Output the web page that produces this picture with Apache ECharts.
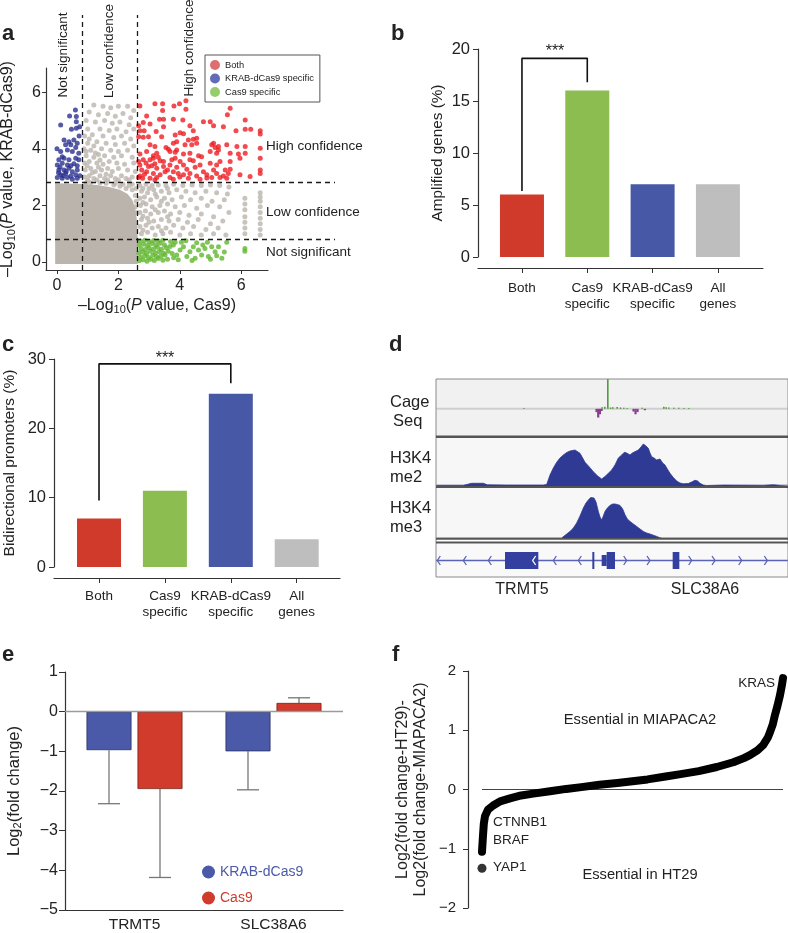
<!DOCTYPE html>
<html><head><meta charset="utf-8">
<script src="https://cdn.jsdelivr.net/npm/echarts@6/dist/echarts.min.js"></script>
<style>html,body{margin:0;padding:0;background:#fff}#c{width:788px;height:933px}</style>
</head><body><div id="c"></div>
<script>
// ================= DATA =================
// Panel a: -log10 P values (x: Cas9, y: KRAB-dCas9)
const aXTicks = [0, 2, 4, 6];
const aYTicks = [0, 2, 4, 6];
const aThreshX = [0.81, 2.6];
const aThreshY = [2.83, 0.81];
const aBoth = [[2.70,5.51],[3.19,5.59],[3.44,5.59],[3.44,5.35],[3.81,5.51],[3.99,5.59],[4.20,5.70],[4.20,5.40],[5.64,5.43],[5.55,5.20],[2.92,5.16],[3.34,5.04],[3.47,5.04],[3.79,5.04],[4.10,5.02],[6.13,5.02],[2.66,4.81],[2.81,4.93],[3.03,4.88],[4.33,4.81],[4.77,4.96],[4.99,4.96],[5.10,4.81],[5.42,4.78],[5.83,4.64],[6.13,4.69],[6.31,4.69],[6.62,4.64],[6.62,4.52],[2.70,4.64],[2.84,4.64],[3.23,4.61],[3.47,4.78],[4.01,4.57],[4.44,4.64],[2.66,4.43],[2.81,4.41],[2.98,4.43],[3.41,4.43],[3.85,4.49],[4.12,4.53],[4.28,4.31],[4.44,4.34],[4.55,4.37],[3.90,4.25],[3.79,4.20],[3.03,4.14],[3.19,4.08],[4.17,4.14],[4.39,4.14],[4.55,4.20],[5.10,4.20],[5.15,4.05],[5.26,4.08],[5.04,4.14],[5.53,4.14],[5.86,4.08],[6.13,4.08],[6.62,4.02],[3.63,3.98],[3.90,3.96],[2.92,3.90],[3.68,3.90],[3.85,3.88],[4.12,3.82],[4.33,3.84],[4.61,3.75],[4.71,3.72],[4.99,3.90],[5.20,3.84],[5.26,3.96],[5.64,3.84],[5.91,3.82],[6.13,3.84],[2.70,3.82],[3.25,3.84],[3.14,3.75],[2.81,3.61],[3.03,3.61],[3.14,3.67],[3.36,3.58],[3.47,3.55],[3.74,3.61],[3.85,3.67],[4.01,3.55],[4.33,3.61],[4.44,3.58],[4.66,3.43],[4.99,3.49],[5.31,3.55],[5.64,3.55],[5.96,3.67],[6.62,3.67],[2.66,3.55],[2.70,3.43],[2.98,3.37],[3.09,3.40],[3.19,3.47],[3.25,3.31],[3.47,3.37],[3.68,3.43],[3.90,3.35],[4.12,3.43],[4.23,3.28],[4.50,3.35],[4.77,3.19],[5.10,3.25],[5.20,3.43],[5.48,3.25],[2.76,3.25],[2.92,3.19],[3.14,3.13],[3.36,3.08],[3.52,3.19],[3.79,3.19],[3.95,3.13],[4.12,3.08],[4.33,3.13],[4.55,3.04],[4.88,3.08],[5.20,3.13],[5.42,3.04],[5.58,3.13],[5.64,3.28],[5.96,3.08],[6.29,3.02],[6.62,3.25],[6.62,3.13],[2.70,3.04],[2.79,2.96],[3.03,2.96],[3.25,2.99],[3.68,2.99],[3.79,2.92],[4.28,2.96],[4.66,2.92],[4.88,2.97],[5.04,2.99],[5.31,2.99],[5.53,2.96],[2.66,2.99],[3.19,2.90],[2.9,3.5],[3.3,3.7],[3.6,3.25],[4.0,3.0],[2.85,3.1],[3.55,4.05]];
const aKrab = [[0.6,5.37],[0.41,5.16],[0.63,5.14],[0.12,4.84],[0.63,4.96],[0.47,4.69],[0.63,4.73],[0.74,4.78],[0.23,4.31],[0.39,4.25],[0.55,4.31],[0.66,4.20],[0.28,4.14],[0.45,4.14],[0.61,4.05],[0.12,3.90],[0.34,3.96],[0.5,3.90],[0.71,3.84],[0.17,3.72],[0.06,3.61],[0.23,3.67],[0.39,3.61],[0.61,3.67],[0.71,3.61],[0.01,3.43],[0.17,3.49],[0.34,3.43],[0.55,3.47],[0.66,3.40],[0.06,3.25],[0.23,3.25],[0.39,3.31],[0.5,3.19],[0.66,3.25],[0.12,3.08],[0.28,3.13],[0.45,3.04],[0.61,3.08],[0.01,2.99],[0.17,2.96],[0.34,2.99],[0.5,2.92],[0.66,2.96],[0.05,3.15],[0.2,3.05],[0.3,3.2],[0.1,3.35],[0.45,3.4],[0.75,3.05],[0.72,4.45],[0.0,4.0]];
const aCas9 = [[2.68,0.04],[2.8,0.08],[2.93,0.03],[3.05,0.1],[3.17,0.05],[3.3,0.12],[3.45,0.06],[3.6,0.1],[2.72,0.18],[2.86,0.22],[2.98,0.16],[3.12,0.24],[3.24,0.19],[3.38,0.2],[3.52,0.25],[2.67,0.32],[2.79,0.35],[2.92,0.3],[3.04,0.38],[3.2,0.33],[3.33,0.36],[3.47,0.31],[3.62,0.38],[2.74,0.47],[2.88,0.44],[3.0,0.5],[3.14,0.46],[3.27,0.52],[3.4,0.45],[3.56,0.5],[2.68,0.6],[2.82,0.63],[2.95,0.58],[3.09,0.65],[3.22,0.6],[3.36,0.66],[3.5,0.6],[2.72,0.74],[2.86,0.77],[3.0,0.72],[3.15,0.76],[3.3,0.74],[3.45,0.77],[3.7,0.72],[3.79,0.6],[3.9,0.25],[4.01,0.42],[4.12,0.54],[4.23,0.19],[4.33,0.36],[4.44,0.54],[4.5,0.13],[4.61,0.42],[4.71,0.25],[4.82,0.48],[4.93,0.19],[5.04,0.54],[5.15,0.36],[5.26,0.54],[5.37,0.13],[5.53,0.7],[6.12,0.48],[6.12,0.38],[3.75,0.3],[3.85,0.7],[3.95,0.08],[4.05,0.7],[4.2,0.75],[4.4,0.05],[4.55,0.68],[4.75,0.6],[4.9,0.7],[5.0,0.1],[5.2,0.22],[5.45,0.35],[3.68,0.55],[3.8,0.15]];
const aGrayDense = [[-0.06,-0.07],[2.63,-0.07],[2.63,0.85],[2.6,1.5],[2.55,1.9],[2.45,2.2],[2.3,2.4],[2.05,2.55],[1.7,2.65],[1.3,2.72],[0.8,2.76],[-0.06,2.78]];
const aGray = [[1.2,5.55],[1.5,5.5],[1.75,5.45],[2.0,5.5],[2.3,5.5],[2.5,5.35],[1.05,5.3],[1.35,5.2],[1.65,5.25],[1.9,5.15],[2.15,5.25],[2.4,5.1],[0.95,5.0],[1.25,4.95],[1.55,5.0],[1.8,4.9],[2.05,4.95],[2.35,4.85],[1.0,4.7],[1.4,4.7],[1.7,4.65],[1.95,4.7],[2.25,4.6],[2.5,4.7],[0.9,4.45],[1.15,4.5],[1.5,4.45],[1.85,4.4],[2.1,4.45],[2.4,4.35],[1.0,4.2],[1.3,4.25],[1.6,4.2],[1.9,4.15],[2.2,4.2],[2.5,4.1],[0.88,4.0],[1.1,3.95],[1.45,4.0],[1.75,3.95],[2.0,3.9],[2.3,3.95],[0.95,3.75],[1.2,3.7],[1.35,3.8],[1.55,3.75],[1.85,3.7],[2.1,3.75],[2.45,3.7],[0.9,3.5],[1.05,3.55],[1.3,3.5],[1.5,3.45],[1.7,3.55],[1.95,3.5],[2.2,3.45],[2.5,3.5],[0.92,3.25],[1.1,3.3],[1.25,3.2],[1.45,3.25],[1.65,3.3],[1.8,3.2],[2.0,3.3],[2.3,3.25],[2.55,3.2],[0.9,3.0],[1.05,3.05],[1.2,2.95],[1.4,3.05],[1.55,2.95],[1.75,3.05],[1.9,2.95],[2.1,3.05],[2.25,2.95],[2.45,3.0],[1.0,2.9],[1.3,2.9],[1.65,2.9],[2.0,2.9],[2.35,2.9],[0.98,3.4],[1.15,3.15],[1.35,3.35],[0.95,3.9],[1.2,4.1],[1.05,4.35],[1.25,3.85],[1.4,3.6],[1.6,3.1],
[2.7,2.7],[2.9,2.75],[3.1,2.7],[3.3,2.72],[3.55,2.7],[3.8,2.75],[4.1,2.7],[4.4,2.72],[4.7,2.7],[5.0,2.72],[5.3,2.7],[5.6,2.65],[2.75,2.5],[2.95,2.45],[3.15,2.55],[3.4,2.5],[3.65,2.45],[3.9,2.55],[4.2,2.5],[4.5,2.45],[4.85,2.5],[5.2,2.45],[5.55,2.4],[2.7,2.25],[2.85,2.3],[3.05,2.2],[3.25,2.3],[3.5,2.25],[3.75,2.2],[4.05,2.3],[4.35,2.2],[4.7,2.25],[5.05,2.15],[5.45,2.2],[2.72,2.0],[2.9,2.05],[3.1,1.95],[3.35,2.0],[3.6,2.05],[3.85,1.95],[4.15,2.0],[4.55,1.9],[4.9,2.0],[5.3,1.95],[2.7,1.75],[2.88,1.8],[3.05,1.7],[3.3,1.75],[3.5,1.8],[3.7,1.7],[4.0,1.75],[4.3,1.65],[4.7,1.7],[5.1,1.6],[5.6,1.75],[2.75,1.5],[2.95,1.55],[3.15,1.45],[3.4,1.5],[3.65,1.45],[3.95,1.5],[4.25,1.4],[4.6,1.5],[5.0,1.35],[5.4,1.45],[2.7,1.25],[2.9,1.3],[3.1,1.2],[3.3,1.25],[3.55,1.2],[3.8,1.3],[4.1,1.2],[4.45,1.25],[4.85,1.15],[5.25,1.2],[2.75,1.0],[2.95,1.05],[3.2,0.95],[3.45,1.0],[3.7,1.05],[4.0,0.95],[4.35,1.0],[4.7,0.95],[5.1,1.0],[5.5,0.95],[2.8,2.6],[2.8,2.1],[2.8,1.62],[2.8,1.12],[3.0,2.6],[3.0,1.4],[3.2,2.4],[3.2,1.85],[3.4,2.15],[3.4,1.1],[3.6,2.6],[3.6,1.6],
[6.12,2.25],[6.12,2.05],[6.12,1.85],[6.12,1.6],[6.12,1.4],[6.12,1.2],[6.12,1.0],[6.62,2.45],[6.62,2.3],[6.62,2.15],[6.62,1.95],[6.62,1.75],[6.62,1.55],[6.62,1.35],[6.62,1.15],[6.62,0.95],
[1.85,2.72],[2.05,2.68],[2.25,2.6],[2.45,2.55],[2.55,2.35],[2.58,2.15],[2.55,1.95],[2.6,1.75],[1.6,2.78],[1.9,2.78],[2.15,2.75],[2.45,2.75],[1.4,2.8],[1.1,2.8],[0.95,2.8],[2.35,2.7],[2.58,2.6]];

// Panels b, c
const bcCats = ['Both', 'Cas9\nspecific', 'KRAB-dCas9\nspecific', 'All\ngenes'];
const bVals = [6, 16, 7, 7];
const bBracket = [[0, 6.35], [0, 19.1], [1, 19.1], [1, 16.8]];
const cVals = [7, 11, 25, 4];
const cBracket = [[0, 9.6], [0, 29.3], [2, 29.3], [2, 26.5]];

// Panel d: genome browser tracks (x in window position units)
const dCageGreen = [[537,1.1],[520,0.06],[528,0.08],[545,0.05],[552,0.06],[565,0.07],[575,0.05],[585,0.04],[595,0.03],[640,0.04],[705,0.08],[712,0.06],[720,0.05],[735,0.04],[750,0.04],[765,0.03],[780,0.03],[285,0.03]];
const dCagePurple = [[497,-0.12],[502,-0.32],[507,-0.2],[512,-0.08],[608,-0.1],[614,-0.2],[620,-0.12],[642,-0.05]];
const dMe2 = [[18,0.8],[100,0.8],[110,1.5],[125,2.7],[160,2.7],[172,1.2],[230,1],[340,1],[350,1.5],[360,11],[370,18],[380,23.7],[390,28],[400,31],[410,33.5],[420,35],[435,36],[450,32.7],[458,28],[465,23.7],[478,19],[490,14.3],[503,10],[515,7],[525,9.5],[535,12.7],[545,16],[555,21],[565,28],[575,31],[583,33.7],[590,33],[600,31],[607,33],[612,35],[625,36],[633,39],[640,42],[648,40],[655,37.7],[660,33],[665,29.3],[672,28],[680,26],[685,27.5],[690,27],[698,23],[705,21],[712,17],[720,12.7],[730,8.5],[740,5],[750,3],[760,2.2],[775,2.5],[785,4],[795,5.7],[803,5],[810,2.7],[820,1],[830,0.5],[880,1],[1000,0.8],[1030,1.3],[1050,0.8],[1074,0.8]];
const dMe3 = [[18,0],[395,0],[400,1.6],[410,4],[420,6.6],[430,10],[440,15],[450,22],[460,30],[468,35],[475,38],[482,40.5],[487,41.6],[492,40],[498,36],[505,26.6],[510,21],[515,18],[520,22],[525,26.6],[532,30],[540,32.6],[548,34],[555,34],[562,33.5],[570,32.6],[578,29],[585,23.3],[592,19],[600,16.6],[610,14],[620,11.6],[630,9],[640,6.6],[650,5],[660,4],[670,2.8],[680,1.6],[688,0.5],[695,0],[1074,0]];
const dExons = [[225,325,8.5],[487,493,8.5],[515,530,5.5],[530,555,8.5],[728,748,8.5]];
const dChevLeft = [22, 100, 175, 308, 370, 445];
const dChevRight = [590, 660, 785, 855, 935, 1012];
const dGenes = ['TRMT5', 'SLC38A6'];

// Panel e
const eCats = ['TRMT5', 'SLC38A6'];
const eKrab = [-0.97, -1.0];
const eKrabErr = [-2.32, -1.97];
const eCas9 = [-1.95, 0.22];
const eCas9Err = [-4.18, 0.35];

// Panel f: rank (%) vs log2 difference
const fRank = [0,0.3,0.6,1,2,3.7,6,9.3,13,17,22.6,28,33,39,45,50,55,61,66,72,78,83.5,87,89,91.5,93.4,95,95.7,96.6,97.3,98.2,99,99.6,100];
const fVal = [-1.05,-0.8,-0.58,-0.45,-0.34,-0.27,-0.2,-0.15,-0.1,-0.07,-0.03,0.01,0.04,0.08,0.11,0.14,0.17,0.22,0.26,0.31,0.38,0.46,0.53,0.58,0.66,0.75,0.88,0.97,1.1,1.25,1.42,1.59,1.75,1.88];
const fYap1 = [[0, -1.33]];

// ================= CHART =================
const FONT = 'Liberation Sans';
const INK = '#222';
const chart = echarts.init(document.getElementById('c'), null, {renderer: 'canvas'});

function G(left, top, width, height, extra) {
  return Object.assign({left, top, width, height, containLabel: false, outerBoundsMode: 'none'}, extra || {});
}
const grids = [
  G(46, 68, 222, 202),            // 0 a
  G(46, 15, 289, 255),            // 1 a overlay
  G(478, 49, 285, 208),           // 2 b
  G(54, 359, 286, 208),           // 3 c
  G(436, 379, 352, 57, {show: true, backgroundColor: '#f1f1f1', borderWidth: 0}), // 4 cage
  G(436, 438, 352, 48, {show: true, backgroundColor: '#f7f7f7', borderWidth: 0}), // 5 me2
  G(436, 488, 352, 50, {show: true, backgroundColor: '#f7f7f7', borderWidth: 0}), // 6 me3
  G(436, 544, 352, 33, {show: true, backgroundColor: '#f9f9f9', borderWidth: 0}), // 7 gene
  G(65, 672, 278, 238),           // 8 e
  G(468, 671, 315, 237)           // 9 f
];

const axLine = {show: true, onZero: false, lineStyle: {color: '#333', width: 1.2}};
const hidden = (gi, min, max, type) => ({type: type || 'value', gridIndex: gi, min, max, show: false, axisLine: {onZero: false}});

const xAxes = [
  {type: 'value', gridIndex: 0, min: -0.358, max: 6.873, axisLine: axLine,
   axisTick: {show: true, length: 4, customValues: aXTicks, lineStyle: {color: '#333'}},
   axisLabel: {customValues: aXTicks, fontSize: 16, margin: 8, color: INK, fontFamily: FONT},
   splitLine: {show: false},
   name: '–Log{s|10}({i|P} value, Cas9)', nameLocation: 'middle', nameGap: 27,
   nameTextStyle: {fontSize: 16, color: INK, fontFamily: FONT, rich: {s: {fontSize: 11, padding: [7, 0, 0, 0], fontFamily: FONT, color: INK}, i: {fontSize: 16, fontStyle: 'italic', fontFamily: FONT, color: INK}}}},
  hidden(1, -0.358, 9.055),
  {type: 'value', gridIndex: 2, min: -0.673, max: 3.69, offset: 11, axisLine: axLine,
   axisTick: {show: true, length: 5, customValues: [0,1,2,3], lineStyle: {color: '#333'}},
   axisLabel: {customValues: [0,1,2,3], formatter: v => bcCats[Math.round(v)], fontSize: 13.5, lineHeight: 16, margin: 12, color: INK, fontFamily: FONT},
   splitLine: {show: false}},
  {type: 'value', gridIndex: 3, min: -0.683, max: 3.657, offset: 11, axisLine: axLine,
   axisTick: {show: true, length: 5, customValues: [0,1,2,3], lineStyle: {color: '#333'}},
   axisLabel: {customValues: [0,1,2,3], formatter: v => bcCats[Math.round(v)], fontSize: 13.5, lineHeight: 16, margin: 10, color: INK, fontFamily: FONT},
   splitLine: {show: false}},
  hidden(4, 18, 1074), hidden(5, 18, 1074), hidden(6, 18, 1074), hidden(7, 18, 1074),
  {type: 'category', gridIndex: 8, data: eCats, axisLine: axLine, axisTick: {show: false},
   axisLabel: {fontSize: 15.5, margin: 7, color: INK, fontFamily: FONT}},
  hidden(9, -4.65, 100)
];

const minus = v => (v < 0 ? '\u2212' + Math.abs(v) : String(v));
const yAxes = [
  {type: 'value', gridIndex: 0, min: -0.283, max: 6.855, axisLine: axLine,
   axisTick: {show: true, length: 4, customValues: aYTicks, lineStyle: {color: '#333'}},
   axisLabel: {customValues: aYTicks, fontSize: 16, margin: 5, color: INK, fontFamily: FONT},
   splitLine: {show: false},
   name: '–Log{s|10}({i|P} value, KRAB-dCas9)', nameLocation: 'middle', nameGap: 29, nameRotate: 90,
   nameTextStyle: {fontSize: 16, color: INK, fontFamily: FONT, rich: {s: {fontSize: 11, padding: [7, 0, 0, 0], fontFamily: FONT, color: INK}, i: {fontSize: 16, fontStyle: 'italic', fontFamily: FONT, color: INK}}}},
  hidden(1, -0.283, 8.728),
  {type: 'value', gridIndex: 2, min: 0, max: 20, interval: 5, axisLine: axLine,
   axisTick: {show: true, length: 5, lineStyle: {color: '#333'}},
   axisLabel: {fontSize: 16.5, margin: 8, color: INK, fontFamily: FONT}, splitLine: {show: false},
   name: 'Amplified genes (%)', nameLocation: 'middle', nameGap: 33, nameRotate: 90,
   nameTextStyle: {fontSize: 15.3, color: INK, fontFamily: FONT}},
  {type: 'value', gridIndex: 3, min: 0, max: 30, interval: 10, axisLine: axLine,
   axisTick: {show: true, length: 5, lineStyle: {color: '#333'}},
   axisLabel: {fontSize: 16.5, margin: 8, color: INK, fontFamily: FONT}, splitLine: {show: false},
   name: 'Bidirectional promoters (%)', nameLocation: 'middle', nameGap: 36, nameRotate: 90,
   nameTextStyle: {fontSize: 15.5, color: INK, fontFamily: FONT}},
  hidden(4, -1, 1.1), hidden(5, 0, 48), hidden(6, 0, 50), hidden(7, -16.5, 16.5),
  {type: 'value', gridIndex: 8, min: -5, max: 1, interval: 1, axisLine: axLine,
   axisTick: {show: true, length: 6, lineStyle: {color: '#333'}},
   axisLabel: {formatter: minus, fontSize: 16, margin: 7, color: INK, fontFamily: FONT}, splitLine: {show: false},
   name: 'Log{s|2}(fold change)', nameLocation: 'middle', nameGap: 42, nameRotate: 90,
   nameTextStyle: {fontSize: 16.5, color: INK, fontFamily: FONT, rich: {s: {fontSize: 11, padding: [7, 0, 0, 0], fontFamily: FONT, color: INK}}}},
  {type: 'value', gridIndex: 9, min: -2, max: 2, interval: 1, axisLine: axLine,
   axisTick: {show: true, length: 5, lineStyle: {color: '#333'}},
   axisLabel: {formatter: minus, fontSize: 15, margin: 12, color: INK, fontFamily: FONT}, splitLine: {show: false},
   name: 'Log2(fold change-HT29)-\nLog2(fold change-MIAPACA2)', nameLocation: 'middle', nameGap: 38, nameRotate: 90,
   nameTextStyle: {fontSize: 16, lineHeight: 18, color: INK, fontFamily: FONT}}
];

const barColors = ['#cf3a2b', '#8cbd51', '#4759a6', '#bebebe'];
const GRAY = '#bbb4ad';
const PT = 5;

function barSeries(gi, vals) {
  return {type: 'bar', name: 'bars' + gi, xAxisIndex: gi, yAxisIndex: gi, barWidth: 44,
    data: vals.map((v, i) => ({value: [i, v], itemStyle: {color: barColors[i]}})), z: 2};
}
function bracket(gi, pts) {
  return {type: 'line', name: 'br' + gi, xAxisIndex: gi, yAxisIndex: gi, data: pts, symbol: 'none',
    lineStyle: {color: '#111', width: 1.6}, z: 3};
}
function errRender(off) {
  return function (params, api) {
    const c = api.value(0);
    const a = api.coord([c, api.value(1)]);
    const b = api.coord([c, api.value(2)]);
    const x = a[0] + off;
    const st = {stroke: '#777', lineWidth: 1.3};
    return {type: 'group', children: [
      {type: 'line', shape: {x1: x, y1: a[1], x2: x, y2: b[1]}, style: st},
      {type: 'line', shape: {x1: x - 11, y1: b[1], x2: x + 11, y2: b[1]}, style: st}
    ]};
  };
}
function chevRender(dir) {
  return function (params, api) {
    const p = api.coord([api.value(0), 0]);
    const inExon = dExons.some(e => api.value(0) > e[0] && api.value(0) < e[1]);
    return {type: 'polyline', shape: {points: [[p[0] + dir * 3, p[1] - 4.5], [p[0], p[1]], [p[0] + dir * 3, p[1] + 4.5]]},
      style: {stroke: inExon ? '#ffffff' : '#5a63b5', lineWidth: 1.3, fill: null}};
  };
}

const series = [
  // ---- a ----
  {type: 'custom', name: 'grayDense', xAxisIndex: 0, yAxisIndex: 0, data: [0], clip: false,
   renderItem: (params, api) => ({type: 'polygon', shape: {points: aGrayDense.map(p => api.coord(p))}, style: {fill: GRAY}}), z: 1},
  {type: 'scatter', name: 'gray', xAxisIndex: 0, yAxisIndex: 0, data: aGray, symbolSize: PT, itemStyle: {color: GRAY}, z: 2},
  {type: 'scatter', name: 'Both', xAxisIndex: 0, yAxisIndex: 0, data: aBoth, symbolSize: PT, itemStyle: {color: '#ee1d23'}, z: 3},
  {type: 'scatter', name: 'KRAB-dCas9 specific', xAxisIndex: 0, yAxisIndex: 0, data: aKrab, symbolSize: PT, itemStyle: {color: '#2b3190'}, z: 3},
  {type: 'scatter', name: 'Cas9 specific', xAxisIndex: 0, yAxisIndex: 0, data: aCas9, symbolSize: PT, itemStyle: {color: '#62b62e'}, z: 3},
  {type: 'lines', name: 'thresholds', coordinateSystem: 'cartesian2d', xAxisIndex: 1, yAxisIndex: 1, z: 6,
   lineStyle: {color: '#1a1a1a', width: 1.3, type: [5, 4], opacity: 1},
   data: [
     {coords: [[aThreshX[0], -0.283], [aThreshX[0], 8.728]]},
     {coords: [[aThreshX[1], -0.283], [aThreshX[1], 8.728]]},
     {coords: [[-0.358, aThreshY[0]], [9.055, aThreshY[0]]]},
     {coords: [[-0.358, aThreshY[1]], [9.055, aThreshY[1]]]}
   ]},
  // ---- b, c ----
  barSeries(2, bVals), bracket(2, bBracket),
  barSeries(3, cVals), bracket(3, cBracket),
  // ---- d ----
  {type: 'line', name: 'cageMid', xAxisIndex: 4, yAxisIndex: 4, data: [[18, 0], [1074, 0]], symbol: 'none',
   lineStyle: {color: '#cfcfcf', width: 2}, z: 1},
  {type: 'bar', name: 'cageG', xAxisIndex: 4, yAxisIndex: 4, data: dCageGreen, barWidth: 1.6, itemStyle: {color: '#4f9a3c'}, z: 3},
  {type: 'bar', name: 'cageP', xAxisIndex: 4, yAxisIndex: 4, data: dCagePurple, barWidth: 2.2, itemStyle: {color: '#8a3e91'}, z: 3},
  {type: 'line', name: 'me2', xAxisIndex: 5, yAxisIndex: 5, data: dMe2, symbol: 'none',
   lineStyle: {color: '#2f3a94', width: 0.8}, areaStyle: {color: '#2f3a94', opacity: 1}, z: 2},
  {type: 'line', name: 'me3', xAxisIndex: 6, yAxisIndex: 6, data: dMe3, symbol: 'none',
   lineStyle: {color: '#2f3a94', width: 0.8}, areaStyle: {color: '#2f3a94', opacity: 1}, z: 2},
  {type: 'line', name: 'geneLine', xAxisIndex: 7, yAxisIndex: 7, data: [[18, 0], [1074, 0]], symbol: 'none',
   lineStyle: {color: '#5a63b5', width: 1.3}, z: 1},
  {type: 'custom', name: 'exons', xAxisIndex: 7, yAxisIndex: 7, data: dExons, z: 2,
   renderItem: (params, api) => {
     const p1 = api.coord([api.value(0), api.value(2)]);
     const p2 = api.coord([api.value(1), -api.value(2)]);
     return {type: 'rect', shape: {x: p1[0], y: p1[1], width: p2[0] - p1[0], height: p2[1] - p1[1]}, style: {fill: '#3340a0'}};
   }},
  {type: 'custom', name: 'chevL', xAxisIndex: 7, yAxisIndex: 7, data: dChevLeft.map(v => [v]), renderItem: chevRender(1), z: 4},
  {type: 'custom', name: 'chevR', xAxisIndex: 7, yAxisIndex: 7, data: dChevRight.map(v => [v]), renderItem: chevRender(-1), z: 4},
  // ---- e ----
  {type: 'bar', name: 'KRAB-dCas9', xAxisIndex: 8, yAxisIndex: 8, data: eKrab, barWidth: 45, barGap: '13.3%',
   itemStyle: {color: '#4a5aa8', borderColor: '#2a3166', borderWidth: 0.8}, z: 2,
   markLine: {silent: true, symbol: 'none', label: {show: false}, data: [{yAxis: 0}],
     lineStyle: {color: '#9a9a9a', type: 'solid', width: 1.3}, animation: false}},
  {type: 'bar', name: 'Cas9', xAxisIndex: 8, yAxisIndex: 8, data: eCas9, barWidth: 45, barGap: '13.3%',
   itemStyle: {color: '#d03b2b', borderColor: '#7a2018', borderWidth: 0.8}, z: 2},
  {type: 'custom', name: 'errK', xAxisIndex: 8, yAxisIndex: 8, data: eKrab.map((v, i) => [i, v, eKrabErr[i]]), renderItem: errRender(-25.5), z: 1},
  {type: 'custom', name: 'errC', xAxisIndex: 8, yAxisIndex: 8, data: eCas9.map((v, i) => [i, v, eCas9Err[i]]), renderItem: errRender(25.5), z: 1},
  // ---- f ----
  {type: 'line', name: 'fZero', xAxisIndex: 9, yAxisIndex: 9, data: [[0, 0], [100, 0]], symbol: 'none',
   lineStyle: {color: '#444', width: 1}, z: 1},
  {type: 'line', name: 'fCurve', xAxisIndex: 9, yAxisIndex: 9, data: fRank.map((r, i) => [r, fVal[i]]), symbol: 'none',
   lineStyle: {color: '#000', width: 8, cap: 'round', join: 'round'}, z: 3},
  {type: 'scatter', name: 'YAP1pt', xAxisIndex: 9, yAxisIndex: 9, data: fYap1, symbolSize: 9, itemStyle: {color: '#000'}, z: 3}
];

function T(x, y, text, o) {
  o = o || {};
  const align = o.align || 'left', va = o.va || 'middle';
  return {type: 'text', x, y, rotation: o.rot || 0, z: 100,
    style: {text, fontFamily: FONT, fontSize: o.size || 13.5, fontWeight: o.bold ? 'bold' : 'normal',
      fill: o.color || INK, align, verticalAlign: va, textAlign: align, textVerticalAlign: va}};
}
function R(x, y, w, h, fill, stroke) {
  return {type: 'rect', z: 90, shape: {x, y, width: w, height: h},
    style: stroke ? {fill: null, stroke, lineWidth: 1} : {fill}};
}
const R90 = Math.PI / 2;
const graphics = [
  // panel letters
  T(2, 34, 'a', {size: 22, bold: true}), T(391, 34, 'b', {size: 22, bold: true}),
  T(2, 345, 'c', {size: 22, bold: true}), T(389, 345, 'd', {size: 22, bold: true}),
  T(2, 655, 'e', {size: 22, bold: true}), T(392, 655, 'f', {size: 22, bold: true}),
  // panel a annotations
  T(63, 55, 'Not significant', {rot: R90, align: 'center', size: 13.5}),
  T(109, 51, 'Low confidence', {rot: R90, align: 'center', size: 13.5}),
  T(189, 48, 'High confidence', {rot: R90, align: 'center', size: 13.5}),
  T(266, 146, 'High confidence', {size: 13.5}),
  T(266, 212, 'Low confidence', {size: 13.5}),
  T(266, 252, 'Not significant', {size: 13.5}),
  // significance stars
  T(555, 52, '***', {align: 'center', size: 16}),
  T(165, 359, '***', {align: 'center', size: 16}),
  // panel d frame
  R(436, 379, 352, 198, null, '#8a8a8a'),
  R(436, 435.5, 352, 2.6, '#555'), R(436, 486, 352, 2, '#555'),
  R(436, 538, 352, 1.8, '#555'), R(436, 541.6, 352, 1.8, '#555'),
  T(390, 402, 'Cage', {size: 16.5}), T(393, 421, 'Seq', {size: 16.5}),
  T(390, 458, 'H3K4', {size: 16.5}), T(390, 477, 'me2', {size: 16.5}),
  T(390, 508, 'H3K4', {size: 16.5}), T(390, 527, 'me3', {size: 16.5}),
  T(522, 590, dGenes[0], {align: 'center', size: 16}),
  T(705, 590, dGenes[1], {align: 'center', size: 16}),
  // panel f annotations
  T(775, 683, 'KRAS', {align: 'right', size: 13.5}),
  T(640, 720, 'Essential in MIAPACA2', {align: 'center', size: 14.7}),
  T(493, 822, 'CTNNB1', {size: 13.5}),
  T(493, 840, 'BRAF', {size: 13.5}),
  T(493, 867, 'YAP1', {size: 13.5}),
  T(640, 875, 'Essential in HT29', {align: 'center', size: 14.7})
];

const option = {
  animation: false,
  backgroundColor: '#fff',
  textStyle: {fontFamily: FONT, color: INK},
  grid: grids,
  xAxis: xAxes,
  yAxis: yAxes,
  legend: [
    {left: 205, top: 55, orient: 'vertical', padding: [5, 6, 5, 5], itemWidth: 10, itemHeight: 10, itemGap: 3.5,
     borderColor: '#555', borderWidth: 1, icon: 'circle', selectedMode: false,
     textStyle: {fontSize: 9.3, color: INK, fontFamily: FONT},
     data: [{name: 'Both', itemStyle: {color: '#d54b4c'}},
            {name: 'KRAB-dCas9 specific', itemStyle: {color: '#3b46a2'}},
            {name: 'Cas9 specific', itemStyle: {color: '#79c044'}}]},
    {left: 197, top: 860, orient: 'vertical', padding: 5, itemWidth: 13, itemHeight: 13, itemGap: 12,
     icon: 'circle', selectedMode: false, textStyle: {fontSize: 14, fontFamily: FONT},
     data: [{name: 'KRAB-dCas9', textStyle: {color: '#4a5aa8'}, itemStyle: {color: '#4a5aa8', borderWidth: 0}},
            {name: 'Cas9', textStyle: {color: '#d03b2b'}, itemStyle: {color: '#d03b2b', borderWidth: 0}}]}
  ],
  series,
  graphic: {elements: graphics}
};
chart.setOption(option);
</script>
</body></html>
